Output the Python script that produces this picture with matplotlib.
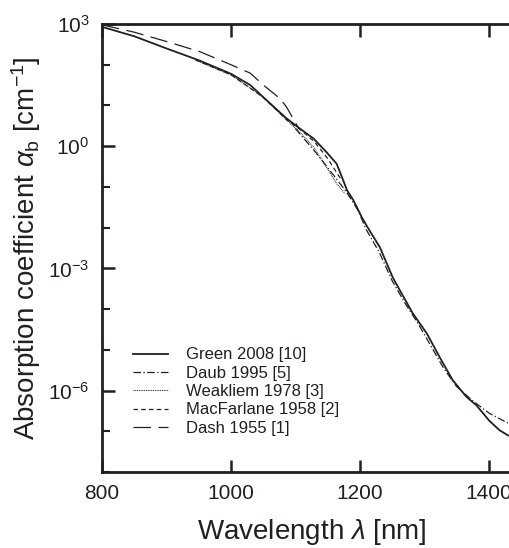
import numpy as np
import matplotlib
matplotlib.use("Agg")
import matplotlib.pyplot as plt

plt.rcParams['font.family'] = ['Liberation Sans', 'DejaVu Sans']
plt.rcParams['mathtext.fontset'] = 'custom'
plt.rcParams['mathtext.rm'] = 'Liberation Sans'
plt.rcParams['mathtext.it'] = 'Liberation Sans:italic'
plt.rcParams['mathtext.bf'] = 'Liberation Sans:bold'

ink = '#231f20'

# Green 2008 [10]
green_wl = [800, 850, 900, 950, 1000, 1030, 1060, 1085, 1107, 1128, 1148, 1164, 1172,
            1180, 1190, 1203, 1212, 1231, 1251, 1262, 1282, 1304, 1324, 1344, 1365,
            1381, 1401, 1417, 1430]
green_a = [851, 500, 251, 129, 60, 31.6, 11.5, 5.0, 2.7, 1.55, 0.72, 0.37, 0.178,
           0.083, 0.047, 0.018, 0.0102, 3.3e-3, 6.0e-4, 2.9e-4, 7.9e-5, 2.5e-5,
           6.5e-6, 1.8e-6, 7.1e-7, 4.3e-7, 1.8e-7, 1.05e-7, 7.9e-8]
# Daub 1995 [5]
daub_wl = [1100, 1133, 1153, 1179, 1197, 1210, 1230, 1250, 1270, 1290, 1310,
           1330, 1350, 1375, 1401, 1431]
daub_a = [2.7, 0.66, 0.26, 0.076, 0.027, 8.9e-3, 2.5e-3, 5.0e-4, 1.4e-4, 4.5e-5,
          1.26e-5, 3.5e-6, 1.26e-6, 5.6e-7, 2.75e-7, 1.55e-7]
# Weakliem 1978 [3]
weak_wl = [945, 1000, 1050, 1086, 1107, 1128, 1148, 1164, 1177]
weak_a = [130, 56, 16, 4.4, 2.2, 0.95, 0.31, 0.12, 0.069]
# MacFarlane 1958 [2]
macf_wl = [945, 1000, 1050, 1090, 1110, 1130, 1150, 1170]
macf_a = [132, 57, 16, 4.0, 2.4, 1.26, 0.5, 0.16]
# Dash 1955 [1]
dash_wl = [800, 850, 900, 952, 1000, 1030, 1050, 1076, 1086, 1104]
dash_a = [955, 630, 372, 209, 100, 62, 32, 14.8, 9.3, 2.95]

fig = plt.figure(figsize=(5.09, 5.48), dpi=100)
# the right part of the axes runs past the figure edge, as in the original
ax = fig.add_axes([0.2004, 0.1387, 0.8232, 0.8175])

ax.semilogy(green_wl, green_a, color=ink, lw=1.3, label='Green 2008 [10]')
ax.semilogy(daub_wl, daub_a, color=ink, lw=0.9, dashes=(6, 2, 1, 2), label='Daub 1995 [5]')
ax.semilogy(weak_wl, weak_a, color=ink, lw=0.8, dashes=(0.8, 0.8), label='Weakliem 1978 [3]')
ax.semilogy(macf_wl, macf_a, color=ink, lw=0.9, dashes=(3.6, 2.6), label='MacFarlane 1958 [2]')
ax.semilogy(dash_wl, dash_a, color=ink, lw=0.9, dashes=(14, 6), label='Dash 1955 [1]')

ax.set_xlim(800, 1450)
ax.set_ylim(1e-8, 1e3)

ax.set_xticks([800, 1000, 1200, 1400])
ax.set_yticks([1e-6, 1e-3, 1e0, 1e3])
ax.set_yticklabels([r'$10^{-6}$', r'$10^{-3}$', r'$10^{0}$', r'$10^{3}$'])
ax.yaxis.set_minor_locator(matplotlib.ticker.FixedLocator([10.0 ** k for k in range(-8, 3)]))
ax.yaxis.set_minor_formatter(matplotlib.ticker.NullFormatter())

ax.tick_params(axis='both', which='major', direction='in', length=9, width=1.8,
               labelsize=15, colors=ink, pad=9, top=True, right=True)
ax.tick_params(axis='y', which='minor', direction='in', length=6, width=1.5,
               colors=ink, right=False)
for s in ax.spines.values():
    s.set_linewidth(2.0)
    s.set_color(ink)

ax.set_xlabel(r'Wavelength $\lambda$ [nm]', fontsize=20, color=ink, labelpad=10)
ax.set_ylabel(r'Absorption coefficient $\alpha_{\mathrm{b}}$ [cm$^{-1}$]', fontsize=20,
              color=ink, labelpad=4)

leg = ax.legend(loc='upper left', bbox_to_anchor=(0.2613, 0.366), bbox_transform=fig.transFigure,
                frameon=False, fontsize=12, handlelength=2.1, handletextpad=1.1,
                labelspacing=0.2, borderpad=0, borderaxespad=0)
for t in leg.get_texts():
    t.set_color(ink)

fig.savefig('out.png', dpi=100)
